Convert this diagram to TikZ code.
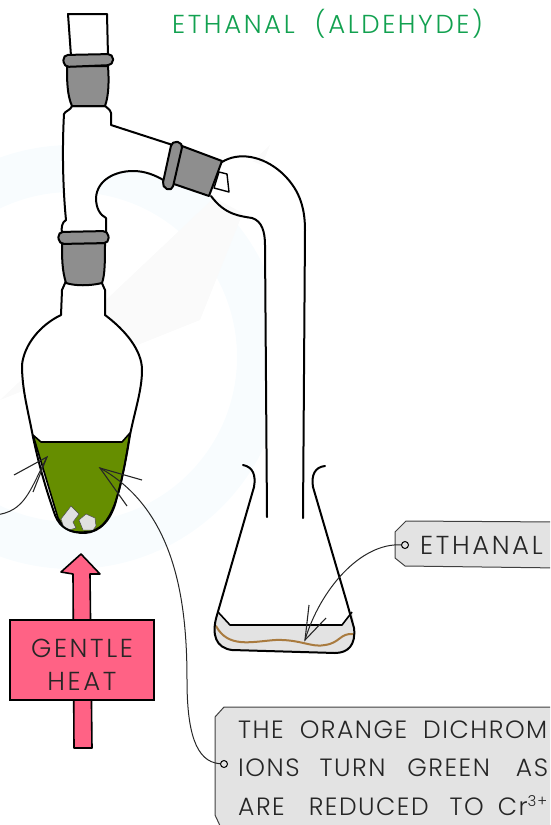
\documentclass[tikz,border=0pt]{standalone}
\usepackage{fontspec}
\setmainfont{Poppins}[UprightFont=* Light,LetterSpace=6]
\newfontfamily\widefont{Poppins}[UprightFont=* Light,LetterSpace=10]
\usetikzlibrary{arrows.meta}
\definecolor{glassgrey}{HTML}{8E8E8E}
\definecolor{liqgreen}{HTML}{668E00}
\definecolor{labelgrey}{HTML}{E3E3E3}
\definecolor{heatpink}{HTML}{FF6285}
\definecolor{titlegreen}{HTML}{12A150}
\definecolor{brownlayer}{HTML}{A97B3F}
\definecolor{wmblue}{HTML}{F8FCFE}
\definecolor{wmgrey}{HTML}{FAFAFA}
\tikzset{
  x=1pt,y=-1pt,
  glass/.style={draw=black,line width=2pt,line join=round,line cap=round},
  joint/.style={glass,fill=glassgrey},
  leader/.style={draw=black!85,line width=1pt},
  labeltext/.style={font=\fontsize{25}{25}\selectfont,text=black!85,inner sep=0pt},
  widetext/.style={font=\widefont\fontsize{26}{26}\selectfont,text=black!85,inner sep=0pt},
  dotnode/.style={circle,draw=black,line width=1pt,fill=labelgrey,minimum size=7pt,inner sep=0pt},
  heatbox/.style={draw=black,line width=1.6pt,fill=heatpink,minimum width=144pt,minimum height=80pt,inner sep=0pt},
  heattext/.style={inner sep=0pt,align=center,font=\widefont\fontsize{26}{33}\selectfont,text=black!85},
}
\begin{document}
\begin{tikzpicture}
\useasboundingbox (0,0) rectangle (550,825);
\clip (0,0) rectangle (550,825);
% watermark
\fill[wmblue,even odd rule] (72,357) circle[radius=212] (72,357) circle[radius=165];
\fill[wmgrey] (0,400) -- (270,145) -- (200,320) -- cycle;
% title
\node[widetext,text=titlegreen,anchor=west] (title) at (172,24) {ETHANAL\hspace{20pt}(ALDEHYDE)};
% top stopper
\draw[glass,fill=white] (68,14) -- (107,14) -- (108,56) -- (71,56) -- cycle;
% still head body
\draw[glass,fill=white] (72,106) .. controls (71,110) and (65,111) .. (64,114) .. controls (62,150) and (63,190) .. (66,220) .. controls (62,222) and (61,228) .. (62,233) -- (106,233) -- (106,218) .. controls (100,215) and (96,208) .. (96,198) .. controls (97,180) and (115,171) .. (133,171) .. controls (145,171) and (155,175) .. (165,181) -- (182,148) -- (111,125) -- (111,113) .. controls (110,109) and (107,108) .. (105,106) -- cycle;
% neck and flask
\fill[white] (62,290) -- (105,290) -- (105,315) .. controls (125,330) and (142,350) .. (142,370) .. controls (142,390) and (135,410) .. (130,435) -- (33,435) .. controls (28,410) and (22,390) .. (22,365) .. controls (24,345) and (40,325) .. (61,315) -- cycle;
% liquid
\draw[line width=1.6pt,fill=liqgreen,line join=round] (33,435) -- (41,442) -- (122,442) -- (130,433) .. controls (125,465) and (120,490) .. (117,497) .. controls (110,520) and (100,532) .. (85,532) .. controls (70,533) and (65,530) .. (58,518) -- cycle;
% antibumping chips
\draw[line width=0.5pt,draw=black!70,fill=black!12] (61,519) -- (71,506) -- (79,514) -- (73,522) -- (76,528) -- (69,530) -- (64,528) -- cycle;
\draw[line width=0.5pt,draw=black!70,fill=black!12] (79,520) -- (86,514) -- (95,518) -- (96,526) -- (93,530) -- (83,530) -- cycle;
% flask outline
\draw[glass] (66,281) -- (62,290) -- (61,315) .. controls (40,325) and (24,345) .. (22,365) .. controls (22,390) and (28,410) .. (33,437) .. controls (40,470) and (48,495) .. (55,515) .. controls (60,528) and (70,533) .. (85,533) .. controls (100,532) and (112,520) .. (117,497) .. controls (122,480) and (126,460) .. (130,435) .. controls (135,410) and (142,390) .. (142,370) .. controls (142,350) and (125,330) .. (105,315) -- (105,290) -- (101,281);
% lower joint
\draw[joint] (62,243) -- (105,243) .. controls (105,260) and (105,275) .. (102,283) .. controls (90,286) and (75,286) .. (66,283) .. controls (62,270) and (62,258) .. (62,243) -- cycle;
\draw[joint,rounded corners=5pt] (58,232) -- (108,231) -- (109,243) -- (59,244) -- cycle;
% upper joint
\draw[joint] (67,66) -- (108,66) .. controls (109,80) and (109,95) .. (105,106) -- (72,106) .. controls (67,95) and (67,80) .. (67,66) -- cycle;
\draw[joint,rounded corners=5pt] (63,55) -- (113,54) -- (113,65) -- (64,67) -- cycle;
% condenser tube
\fill[white] (222,162) -- (211,196) -- (252,218) -- (265,245) -- (267,517) -- (303,518) -- (305,230) -- (285,175) -- (240,156) -- cycle;
\draw[glass] (222,162) .. controls (238,152) and (262,155) .. (282,173) .. controls (298,188) and (305,205) .. (305,230) -- (303,518);
\draw[glass] (211,196) .. controls (225,215) and (240,216) .. (252,218) .. controls (262,221) and (265,232) .. (265,245) -- (267,517);
% tab and side joint
\draw[line width=1.4pt,fill=white,line join=round] (219,172) -- (227,174) -- (229,192) -- (214,188) -- cycle;
\draw[joint] (182,146) -- (222,161) -- (209,196) -- (168,182) -- cycle;
\draw[joint,rounded corners=5pt] (172,141) -- (183,143) -- (172,191) -- (162,187) -- cycle;
% receiving flask
\fill[labelgrey] (218,612) -- (230,625) -- (342,625) -- (352,612) .. controls (355,625) and (356,640) .. (350,648) .. controls (345,652) and (340,653) .. (335,653) -- (232,650) .. controls (222,648) and (212,640) .. (215,628) -- cycle;
\draw[line width=1.6pt,line join=round] (218,612) -- (230,625) -- (342,625) -- (352,612);
\draw[line width=2pt,brownlayer,line cap=round] (216,626) .. controls (228,648) and (250,642) .. (275,640) .. controls (300,639) and (312,648) .. (325,645) .. controls (340,643) and (340,633) .. (353,634);
\draw[glass] (243,465) .. controls (253,467) and (256,475) .. (254,487) -- (217,615) .. controls (211,635) and (216,648) .. (232,650) -- (335,653) .. controls (348,653) and (356,645) .. (354,628) -- (347,603) -- (313,487) .. controls (311,475) and (315,467) .. (325,466);
% heat arrow
\draw[draw=black,line width=1.6pt,fill=heatpink,line join=round] (81,554) -- (100,574) -- (90,574) -- (92,748) -- (74,748) -- (73,574) -- (61,572) -- cycle;
\node[heatbox] (heat) at (82,660) {};
\node[heattext,yshift=-5pt] (heatlabel) at (heat) {GENTLE\\HEAT};
% ethanal label
\draw[draw=black!75,line width=1pt,fill=labelgrey] (560,522) -- (406,521) -- (395,532) -- (395,558) -- (405,566) -- (560,568) -- cycle;
\node[widetext,anchor=west] (ethanal) at (420,545) {ETHANAL};
\node[dotnode] (ethdot) at (405,545) {};
\coordinate (ethtip) at (305,640);
\draw[leader] (ethdot) .. controls (360,543) and (320,590) .. (ethtip);
\coordinate (etha) at (309,605);
\coordinate (ethb) at (326,618);
\draw[leader,line width=1.1pt] (etha) -- (ethtip) -- (ethb);
% explanation label
\draw[draw=black!75,line width=1pt,fill=labelgrey] (560,707) -- (224,707) -- (215,717) -- (215,815) -- (222,830) -- (560,830) -- cycle;
\node[labeltext,anchor=west] (line1) at (238,730) {THE\hspace{16pt}ORANGE\hspace{16pt}DICHROM};
\node[labeltext,anchor=west] (line2) at (238,768) {IONS\hspace{20pt}TURN\hspace{22pt}GREEN\hspace{26pt}AS};
\node[labeltext,anchor=west] (line3) at (238,806) {ARE\hspace{24pt}REDUCED\hspace{21pt}TO\hspace{14pt}Cr\raisebox{9pt}{\fontsize{15}{15}\selectfont 3+}};
\node[dotnode] (bigdot) at (224,764) {};
% leader into green liquid
\coordinate (gtip) at (100,468);
\coordinate (ga) at (142,480);
\coordinate (gb) at (127,506);
\draw[leader] (bigdot) .. controls (195,762) and (187,730) .. (187,680) .. controls (187,600) and (175,510) .. (gtip);
\draw[leader,line width=1.1pt] (ga) -- (gtip) -- (gb);
% left leader, coming in from off the picture
\coordinate (ltip) at (47,457);
\coordinate (la) at (14,475);
\coordinate (lb) at (33,492);
\coordinate (lend) at (-5,515);
\draw[leader] (lend) .. controls (25,512) and (30,490) .. (ltip);
\draw[leader,line width=1.1pt] (la) -- (ltip) -- (lb);
\end{tikzpicture}
\end{document}
